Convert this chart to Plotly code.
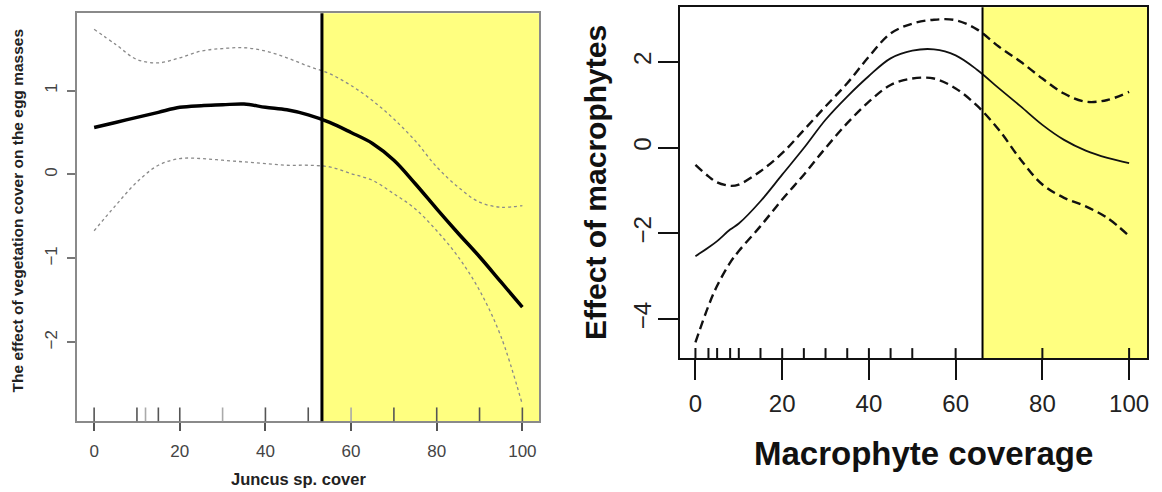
import plotly.graph_objects as go

# ---------------- data: left panel (Juncus sp. cover) ----------------
left_x = [0, 5, 10, 15, 20, 25, 30, 35, 40, 45, 50, 55, 60, 65, 70, 75, 80, 85, 90, 95, 100]
left_fit = [0.56, 0.62, 0.68, 0.74, 0.80, 0.82, 0.83, 0.84, 0.80, 0.77, 0.71, 0.62, 0.50, 0.37,
            0.17, -0.11, -0.41, -0.70, -0.98, -1.28, -1.58]
left_upper = [1.73, 1.55, 1.37, 1.33, 1.39, 1.47, 1.50, 1.51, 1.47, 1.39, 1.29, 1.20, 1.06, 0.88,
              0.66, 0.40, 0.09, -0.15, -0.33, -0.39, -0.37]
left_lower = [-0.67, -0.37, -0.09, 0.11, 0.19, 0.19, 0.17, 0.15, 0.13, 0.11, 0.11, 0.09, 0.01, -0.07,
              -0.23, -0.41, -0.67, -0.98, -1.38, -1.93, -2.74]
left_rug = [0, 10, 12, 15, 20, 30, 40, 50, 60, 70, 80, 90, 100]
left_rug_faint = [12, 30, 60]
left_threshold = 53.2
left_xticks = [0, 20, 40, 60, 80, 100]
left_yticks = [-2, -1, 0, 1]

# ---------------- data: right panel (Macrophyte coverage) ----------------
right_x = [0, 3, 5, 8, 10, 15, 20, 25, 30, 35, 40, 45, 50, 55, 60, 65, 70, 75, 80, 85, 90, 95, 100]
right_fit = [-2.53, -2.33, -2.18, -1.91, -1.77, -1.25, -0.63, -0.01, 0.65, 1.19, 1.67, 2.08, 2.26,
             2.29, 2.15, 1.81, 1.38, 0.96, 0.53, 0.18, -0.07, -0.24, -0.36]
right_upper = [-0.40, -0.67, -0.81, -0.89, -0.86, -0.55, -0.13, 0.41, 0.96, 1.50, 2.12, 2.66, 2.89,
               2.98, 2.97, 2.75, 2.35, 2.00, 1.61, 1.26, 1.07, 1.11, 1.30]
right_lower = [-4.54, -3.69, -3.22, -2.68, -2.41, -1.83, -1.21, -0.63, -0.01, 0.57, 1.07, 1.46, 1.61,
               1.61, 1.38, 0.97, 0.41, -0.28, -0.86, -1.17, -1.37, -1.64, -2.06]
right_rug = [0, 3, 5, 8, 10, 15, 20, 25, 30, 35, 40, 45, 50, 60, 80, 100]
right_threshold = 66.2
right_xticks = [0, 20, 40, 60, 80, 100]
right_yticks = [-4, -2, 0, 2]

W, H = 1162, 492
FONT = "Liberation Sans, Arial, sans-serif"
YELLOW = "#FFFF80"

left_xrange = [-3.96, 103.9]
left_yrange = [-2.94, 1.92]
right_xrange = [-3.6, 104.2]
right_yrange = [-4.91, 3.27]

fig = go.Figure()

# left panel curves
fig.add_trace(go.Scatter(x=left_x, y=left_upper, mode="lines", xaxis="x", yaxis="y",
                         line=dict(color="#8a8a8a", width=1.3, dash="3px,3px", shape="spline"),
                         showlegend=False, hoverinfo="skip"))
fig.add_trace(go.Scatter(x=left_x, y=left_lower, mode="lines", xaxis="x", yaxis="y",
                         line=dict(color="#8a8a8a", width=1.3, dash="3px,3px", shape="spline"),
                         showlegend=False, hoverinfo="skip"))
fig.add_trace(go.Scatter(x=left_x, y=left_fit, mode="lines", xaxis="x", yaxis="y",
                         line=dict(color="black", width=3.5, shape="spline"),
                         showlegend=False, hoverinfo="skip"))

# right panel curves
fig.add_trace(go.Scatter(x=right_x, y=right_upper, mode="lines", xaxis="x2", yaxis="y2",
                         line=dict(color="#111", width=2.4, dash="9px,5px", shape="spline"),
                         showlegend=False, hoverinfo="skip"))
fig.add_trace(go.Scatter(x=right_x, y=right_lower, mode="lines", xaxis="x2", yaxis="y2",
                         line=dict(color="#111", width=2.4, dash="9px,5px", shape="spline"),
                         showlegend=False, hoverinfo="skip"))
fig.add_trace(go.Scatter(x=right_x, y=right_fit, mode="lines", xaxis="x2", yaxis="y2",
                         line=dict(color="#111", width=1.8, shape="spline"),
                         showlegend=False, hoverinfo="skip"))

shapes = []
# yellow regions
shapes.append(dict(type="rect", xref="x", yref="y domain", x0=left_threshold, x1=left_xrange[1],
                   y0=0, y1=1, fillcolor=YELLOW, line=dict(width=0), layer="below"))
shapes.append(dict(type="rect", xref="x2", yref="y2 domain", x0=right_threshold, x1=right_xrange[1],
                   y0=0, y1=1, fillcolor=YELLOW, line=dict(width=0), layer="below"))
# threshold lines
shapes.append(dict(type="line", xref="x", yref="y domain", x0=left_threshold, x1=left_threshold,
                   y0=0, y1=1, line=dict(color="black", width=3)))
shapes.append(dict(type="line", xref="x2", yref="y2 domain", x0=right_threshold, x1=right_threshold,
                   y0=0, y1=1, line=dict(color="black", width=2)))
# rugs
for v in left_rug:
    c = "#aaaaaa" if v in left_rug_faint else "#555555"
    shapes.append(dict(type="line", xref="x", yref="y domain", x0=v, x1=v, y0=0, y1=0.034,
                       line=dict(color=c, width=1.6)))
for v in right_rug:
    shapes.append(dict(type="line", xref="x2", yref="y2 domain", x0=v, x1=v, y0=0, y1=0.029,
                       line=dict(color="#111", width=2)))

annotations = [
    dict(text="<b>The effect of vegetation cover on the egg masses</b>", xref="paper", yref="paper",
         x=18.5 / W, y=1 - 210 / H, xanchor="center", yanchor="middle", textangle=-90,
         showarrow=False, font=dict(family=FONT, size=15.5, color="#222")),
    dict(text="<b>Juncus sp. cover</b>", xref="paper", yref="paper",
         x=299 / W, y=1 - 479 / H, xanchor="center", yanchor="middle",
         showarrow=False, font=dict(family=FONT, size=16.5, color="#222")),
    dict(text="<b>Effect of macrophytes</b>", xref="paper", yref="paper",
         x=597 / W, y=1 - 182 / H, xanchor="center", yanchor="middle", textangle=-90,
         showarrow=False, font=dict(family=FONT, size=30, color="#111")),
    dict(text="<b>Macrophyte coverage</b>", xref="paper", yref="paper",
         x=925 / W, y=1 - 453 / H, xanchor="center", yanchor="middle",
         showarrow=False, font=dict(family=FONT, size=33, color="#111")),
]

fig.update_layout(
    width=W, height=H, autosize=False,
    margin=dict(l=0, r=0, t=0, b=0),
    paper_bgcolor="white", plot_bgcolor="white",
    showlegend=False,
    shapes=shapes, annotations=annotations,
    xaxis=dict(domain=[77.3 / W, 540 / W], range=left_xrange, anchor="y",
               showgrid=False, zeroline=False, showline=True, mirror=True,
               linecolor="#8a8a8a", linewidth=2,
               tickmode="array", tickvals=left_xticks, ticks="outside", ticklen=8,
               tickwidth=1.6, tickcolor="#555", ticklabelstandoff=5,
               tickfont=dict(family=FONT, size=17, color="#444")),
    yaxis=dict(domain=[1 - 421.3 / H, 1 - 13.3 / H], range=left_yrange, anchor="x",
               showgrid=False, zeroline=False, showline=True, mirror=True,
               linecolor="#8a8a8a", linewidth=2,
               tickmode="array", tickvals=left_yticks, ticks="outside", ticklen=8,
               tickwidth=1.6, tickcolor="#777", tickangle=-90, ticklabelstandoff=3,
               tickfont=dict(family=FONT, size=17, color="#444")),
    xaxis2=dict(domain=[681 / W, 1149.3 / W], range=right_xrange, anchor="y2",
                showgrid=False, zeroline=False, showline=True, mirror=True,
                linecolor="#111", linewidth=2,
                tickmode="array", tickvals=right_xticks, ticks="outside", ticklen=20,
                tickwidth=2.2, tickcolor="#111", ticklabelstandoff=3,
                tickfont=dict(family=FONT, size=24, color="#222")),
    yaxis2=dict(domain=[1 - 358.3 / H, 1 - 7.3 / H], range=right_yrange, anchor="x2",
                showgrid=False, zeroline=False, showline=True, mirror=True,
                linecolor="#111", linewidth=2,
                tickmode="array", tickvals=right_yticks, ticks="outside", ticklen=20,
                tickwidth=2.2, tickcolor="#111", tickangle=-90, ticklabelstandoff=-3,
                tickfont=dict(family=FONT, size=24, color="#222")),
)

fig.write_html(
    "out.html",
    config={"displayModeBar": False},
    post_script="document.body.style.margin='0';document.body.style.padding='0';"
                "document.documentElement.style.overflow='hidden';",
)
